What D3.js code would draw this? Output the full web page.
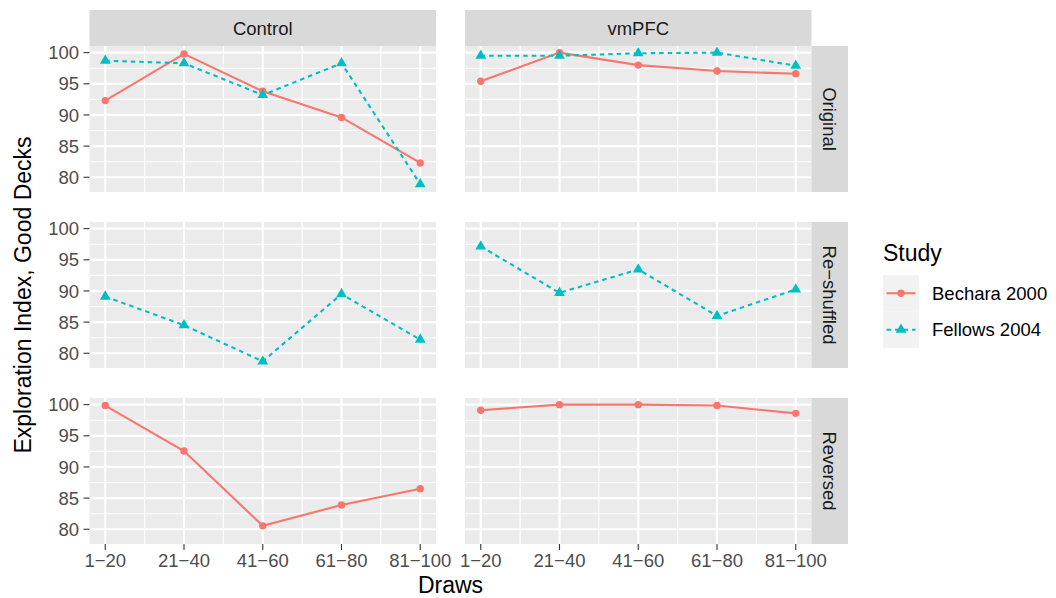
<!DOCTYPE html>
<html>
<head>
<meta charset="utf-8">
<script src="https://cdn.jsdelivr.net/npm/d3@7"></script>
<style>
  html, body { margin: 0; padding: 0; background: #ffffff; }
  svg { display: block; font-family: "Liberation Sans", Arial, Helvetica, sans-serif; }
</style>
</head>
<body>
<svg id="chart" width="1056" height="598"></svg>
<script>
// Facet levels and x categories
const draws = ["1\u221220", "21\u221240", "41\u221260", "61\u221280", "81\u2212100"];
const groups = ["Control", "vmPFC"];
const conditions = ["Original", "Re\u2212shuffled", "Reversed"];
const studies = ["Bechara 2000", "Fellows 2004"];
const yTicks = [80, 85, 90, 95, 100];

// Exploration index per draw block
const controlOriginalBechara = [92.3, 99.8, 93.8, 89.6, 82.3];
const controlOriginalFellows = [98.7, 98.3, 93.2, 98.3, 78.9];
const vmpfcOriginalBechara = [95.4, 100.0, 98.0, 97.05, 96.6];
const vmpfcOriginalFellows = [99.5, 99.5, 99.9, 100.0, 97.9];
const controlReshuffledFellows = [89.1, 84.5, 78.7, 89.5, 82.2];
const vmpfcReshuffledFellows = [97.15, 89.7, 93.45, 86.0, 90.25];
const controlReversedBechara = [99.85, 92.55, 80.55, 83.9, 86.5];
const vmpfcReversedBechara = [99.1, 100.0, 100.0, 99.85, 98.6];

// One entry per (group, condition, study) series
const seriesList = [
  { group: "Control", condition: conditions[0], study: studies[0], values: controlOriginalBechara },
  { group: "Control", condition: conditions[0], study: studies[1], values: controlOriginalFellows },
  { group: "vmPFC",   condition: conditions[0], study: studies[0], values: vmpfcOriginalBechara },
  { group: "vmPFC",   condition: conditions[0], study: studies[1], values: vmpfcOriginalFellows },
  { group: "Control", condition: conditions[1], study: studies[1], values: controlReshuffledFellows },
  { group: "vmPFC",   condition: conditions[1], study: studies[1], values: vmpfcReshuffledFellows },
  { group: "Control", condition: conditions[2], study: studies[0], values: controlReversedBechara },
  { group: "vmPFC",   condition: conditions[2], study: studies[0], values: vmpfcReversedBechara }
];

const colour = d3.scaleOrdinal().domain(studies).range(["#F8766D", "#00BFC4"]);
const dash = d3.scaleOrdinal().domain(studies).range([null, "4.5,4"]);

const svg = d3.select("#chart");

// Layout
const panelW = 346.5, panelH = 146;
const colX = [89.5, 465];
const rowY = [46, 222, 398];
const stripH = 36, stripW = 36.5;
const tickLen = 6;

// Shared scales (fixed across facets), continuous with 5% expansion
const allVals = seriesList.flatMap(s => s.values);
const yMin = d3.min(allVals), yMax = d3.max(allVals);
const yPad = (yMax - yMin) * 0.05;
const y = d3.scaleLinear().domain([yMin - yPad, yMax + yPad]).range([panelH, 0]);
const x = d3.scaleLinear().domain([1 - 0.2, draws.length + 0.2]).range([0, panelW]);

const yMinor = d3.range(yTicks[0] - 2.5, yTicks[yTicks.length - 1] + 5, 5)
  .filter(v => v > y.domain()[0] && v < y.domain()[1]);
const xMinor = d3.range(1.5, draws.length, 1);

const line = d3.line().x((d, i) => x(i + 1)).y(d => y(d));

groups.forEach((g, ci) => {
  conditions.forEach((c, ri) => {
    const p = svg.append("g").attr("transform", `translate(${colX[ci]},${rowY[ri]})`);
    p.append("rect").attr("width", panelW).attr("height", panelH).attr("fill", "#EBEBEB");

    // minor grid
    p.selectAll(".ymin").data(yMinor).join("line")
      .attr("x1", 0).attr("x2", panelW).attr("y1", d => y(d)).attr("y2", d => y(d))
      .attr("stroke", "#ffffff").attr("stroke-width", 1.1);
    p.selectAll(".xmin").data(xMinor).join("line")
      .attr("y1", 0).attr("y2", panelH).attr("x1", d => x(d)).attr("x2", d => x(d))
      .attr("stroke", "#ffffff").attr("stroke-width", 1.1);
    // major grid
    p.selectAll(".ymaj").data(yTicks).join("line")
      .attr("x1", 0).attr("x2", panelW).attr("y1", d => y(d)).attr("y2", d => y(d))
      .attr("stroke", "#ffffff").attr("stroke-width", 2.2);
    p.selectAll(".xmaj").data(draws).join("line")
      .attr("y1", 0).attr("y2", panelH).attr("x1", (d, i) => x(i + 1)).attr("x2", (d, i) => x(i + 1))
      .attr("stroke", "#ffffff").attr("stroke-width", 2.2);

    // series
    const here = seriesList.filter(s => s.group === g && s.condition === c);
    here.forEach(s => {
      p.append("path").datum(s.values)
        .attr("d", line).attr("fill", "none")
        .attr("stroke", colour(s.study)).attr("stroke-width", 2.1)
        .attr("stroke-dasharray", dash(s.study));
      if (s.study === studies[0]) {
        p.selectAll(null).data(s.values).join("circle")
          .attr("cx", (d, i) => x(i + 1)).attr("cy", d => y(d)).attr("r", 3.7)
          .attr("fill", colour(s.study));
      } else {
        p.selectAll(null).data(s.values).join("path")
          .attr("d", d3.symbol(d3.symbolTriangle, 50))
          .attr("transform", (d, i) => `translate(${x(i + 1)},${y(d)})`)
          .attr("fill", colour(s.study));
      }
    });

    // y axis on left column
    if (ci === 0) {
      const ya = p.append("g");
      yTicks.forEach(t => {
        ya.append("line").attr("x1", -tickLen).attr("x2", 0).attr("y1", y(t)).attr("y2", y(t))
          .attr("stroke", "#333333").attr("stroke-width", 1.1);
        ya.append("text").attr("x", -tickLen - 4.5).attr("y", y(t)).attr("dy", "0.36em")
          .attr("text-anchor", "end").attr("fill", "#4D4D4D").attr("font-size", 18.5).text(t);
      });
    }
    // x axis on bottom row
    if (ri === conditions.length - 1) {
      draws.forEach((d, i) => {
        p.append("line").attr("x1", x(i + 1)).attr("x2", x(i + 1)).attr("y1", panelH).attr("y2", panelH + tickLen)
          .attr("stroke", "#333333").attr("stroke-width", 1.1);
        p.append("text").attr("x", x(i + 1)).attr("y", panelH + tickLen + 16.5)
          .attr("text-anchor", "middle").attr("fill", "#4D4D4D").attr("font-size", 18.5).text(d);
      });
    }
    // top strips
    if (ri === 0) {
      p.append("rect").attr("y", -stripH).attr("width", panelW).attr("height", stripH).attr("fill", "#D9D9D9");
      p.append("text").attr("x", panelW / 2).attr("y", -stripH / 2).attr("dy", "0.36em")
        .attr("text-anchor", "middle").attr("fill", "#1A1A1A").attr("font-size", 18.5).text(g);
    }
    // right strips
    if (ci === groups.length - 1) {
      p.append("rect").attr("x", panelW).attr("width", stripW).attr("height", panelH).attr("fill", "#D9D9D9");
      p.append("text")
        .attr("transform", `translate(${panelW + stripW / 2},${panelH / 2}) rotate(90)`)
        .attr("dy", "0.36em").attr("text-anchor", "middle")
        .attr("fill", "#1A1A1A").attr("font-size", 18.5).text(c);
    }
  });
});

// Axis titles
svg.append("text")
  .attr("x", (colX[0] + colX[1] + panelW) / 2).attr("y", 593)
  .attr("text-anchor", "middle").attr("fill", "#000000").attr("font-size", 23).text("Draws");
svg.append("text")
  .attr("transform", `translate(31,${(rowY[0] + rowY[2] + panelH) / 2}) rotate(-90)`)
  .attr("text-anchor", "middle").attr("fill", "#000000").attr("font-size", 23)
  .text("Exploration Index, Good Decks");

// Legend
const lg = svg.append("g").attr("transform", "translate(883,0)");
lg.append("text").attr("x", 0).attr("y", 261).attr("fill", "#000000").attr("font-size", 23).text("Study");
const keyTop = 275, keySize = 36.5;
studies.forEach((s, i) => {
  const ky = keyTop + i * keySize;
  const k = lg.append("g").attr("transform", `translate(0,${ky})`);
  k.append("rect").attr("width", 36).attr("height", keySize).attr("fill", "#F2F2F2");
  k.append("line").attr("x1", 3.5).attr("x2", 32.5).attr("y1", keySize / 2).attr("y2", keySize / 2)
    .attr("stroke", colour(s)).attr("stroke-width", 2.1).attr("stroke-dasharray", dash(s));
  if (i === 0) {
    k.append("circle").attr("cx", 18).attr("cy", keySize / 2).attr("r", 3.7).attr("fill", colour(s));
  } else {
    k.append("path").attr("d", d3.symbol(d3.symbolTriangle, 50))
      .attr("transform", `translate(18,${keySize / 2})`).attr("fill", colour(s));
  }
  lg.append("text").attr("x", 49).attr("y", ky + keySize / 2).attr("dy", "0.36em")
    .attr("fill", "#000000").attr("font-size", 18.5).text(s);
});
</script>
</body>
</html>
